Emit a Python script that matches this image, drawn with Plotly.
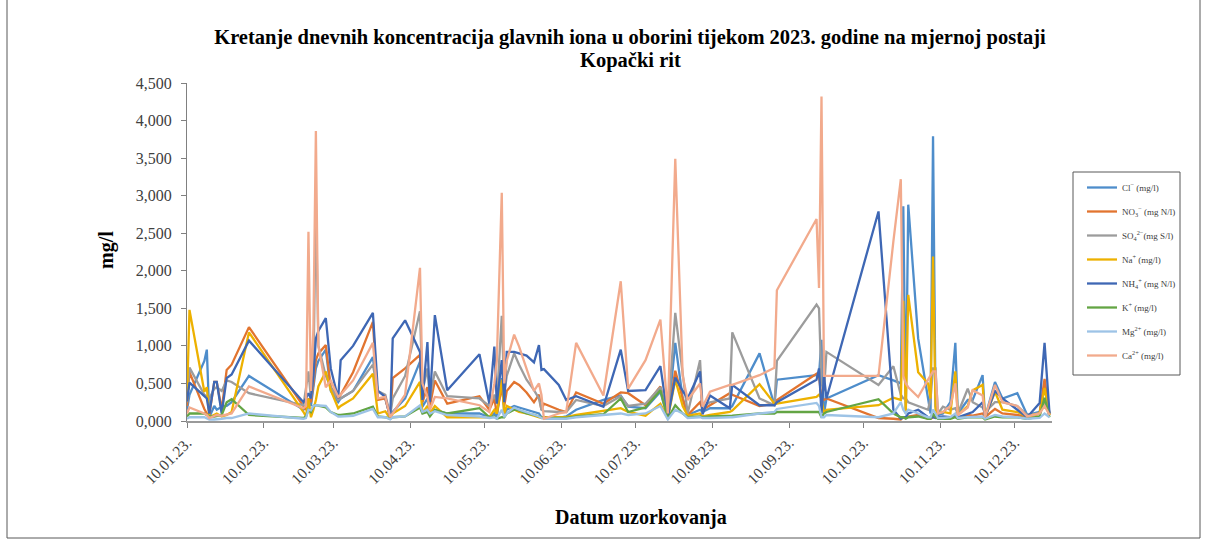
import plotly.graph_objects as go

# Sampling dates (2023)
dates = [
    "2023-01-10", "2023-01-11", "2023-01-17", "2023-01-18", "2023-01-19", "2023-01-21", "2023-01-22", "2023-01-24", "2023-01-26", "2023-01-28",
    "2023-02-04", "2023-02-26", "2023-02-27", "2023-02-28", "2023-03-01", "2023-03-02", "2023-03-03", "2023-03-04", "2023-03-07", "2023-03-09",
    "2023-03-12", "2023-03-13", "2023-03-18", "2023-03-26", "2023-03-28", "2023-03-31", "2023-04-02", "2023-04-03", "2023-04-08", "2023-04-14",
    "2023-04-15", "2023-04-17", "2023-04-18", "2023-04-20", "2023-04-25", "2023-05-08", "2023-05-12", "2023-05-14", "2023-05-15", "2023-05-17",
    "2023-05-18", "2023-05-19", "2023-05-22", "2023-05-24", "2023-05-27", "2023-05-30", "2023-06-01", "2023-06-02", "2023-06-03", "2023-06-09",
    "2023-06-12", "2023-06-16", "2023-06-27", "2023-07-04", "2023-07-07", "2023-07-14", "2023-07-20", "2023-07-23", "2023-07-26", "2023-07-29",
    "2023-07-31", "2023-08-05", "2023-08-06", "2023-08-09", "2023-08-17", "2023-08-18", "2023-08-29", "2023-09-04", "2023-09-05", "2023-09-21",
    "2023-09-22", "2023-09-23", "2023-09-24", "2023-09-25", "2023-10-16", "2023-10-22", "2023-10-25", "2023-10-26", "2023-10-27", "2023-10-28",
    "2023-11-01", "2023-11-05", "2023-11-06", "2023-11-07", "2023-11-08", "2023-11-09", "2023-11-11", "2023-11-14", "2023-11-16", "2023-11-17",
    "2023-11-21", "2023-11-23", "2023-11-27", "2023-11-28", "2023-12-02", "2023-12-05", "2023-12-11", "2023-12-15", "2023-12-20", "2023-12-22",
    "2023-12-24",
]

# Daily concentrations
cl = [
    0.15, 0.35, 0.80, 0.95, 0.05, 0.20, 0.15, 0.19, 0.20, 0.25,
    0.60, 0.15, 0.20, 0.25, 0.20, 0.45, 0.70, 0.80, 0.95, 0.40,
    0.25, 0.30, 0.40, 0.85, 0.30, 0.30, 0.05, 0.12, 0.30, 0.79,
    0.19, 0.30, 0.10, 0.15, 0.10, 0.10, 0.05, 0.10, 0.05, 0.57,
    0.10, 0.15, 0.20, 0.18, 0.15, 0.12, 0.10, 0.05, 0.05, 0.04,
    0.06, 0.15, 0.28, 0.34, 0.19, 0.17, 0.39, 0.03, 1.04, 0.30,
    0.08, 0.15, 0.12, 0.17, 0.17, 0.20, 0.90, 0.21, 0.55, 0.61,
    0.61, 1.08, 0.10, 0.30, 0.61, 0.54, 0.50, 2.86, 0.10, 2.88,
    1.10, 0.30, 0.10, 3.79, 0.20, 0.08, 0.10, 0.25, 1.04, 0.10,
    0.28, 0.28, 0.61, 0.05, 0.52, 0.30, 0.37, 0.08, 0.12, 0.45,
    0.10,
]
no3 = [
    0.20, 0.65, 0.16, 0.10, 0.08, 0.52, 0.52, 0.15, 0.68, 0.75,
    1.25, 0.19, 0.15, 0.30, 0.25, 0.50, 0.81, 0.90, 1.01, 0.45,
    0.30, 0.35, 0.65, 1.32, 0.28, 0.30, 0.05, 0.57, 0.70, 0.88,
    0.25, 0.45, 0.20, 0.54, 0.23, 0.33, 0.15, 0.30, 0.10, 0.45,
    0.20, 0.40, 0.52, 0.48, 0.38, 0.25, 0.35, 0.15, 0.23, 0.15,
    0.12, 0.38, 0.23, 0.38, 0.37, 0.21, 0.46, 0.05, 0.67, 0.30,
    0.08, 0.25, 0.15, 0.21, 0.37, 0.35, 0.20, 0.23, 0.28, 0.63,
    0.60, 0.30, 0.28, 0.30, 0.04, 0.03, 0.02, 0.05, 0.04, 0.06,
    0.08, 0.03, 0.03, 0.05, 0.05, 0.04, 0.05, 0.04, 0.08, 0.04,
    0.08, 0.07, 0.10, 0.05, 0.16, 0.10, 0.08, 0.05, 0.10, 0.56,
    0.08,
]
so4 = [
    0.25, 0.71, 0.35, 0.32, 0.30, 0.43, 0.45, 0.40, 0.54, 0.52,
    0.37, 0.21, 0.45, 0.66, 0.30, 0.60, 2.92, 1.00, 0.60, 0.45,
    0.28, 0.30, 0.40, 0.75, 0.40, 0.35, 0.08, 0.30, 0.60, 1.46,
    0.40, 0.70, 0.30, 0.66, 0.33, 0.30, 0.20, 0.35, 0.25, 1.40,
    0.35, 0.60, 0.90, 0.75, 0.55, 0.41, 0.30, 0.15, 0.13, 0.12,
    0.12, 0.28, 0.20, 0.33, 0.20, 0.23, 0.45, 0.05, 1.44, 0.63,
    0.10, 0.81, 0.19, 0.25, 0.30, 1.18, 0.30, 0.21, 0.80, 1.55,
    1.50, 0.50, 0.40, 0.92, 0.48, 0.73, 0.35, 0.30, 0.30, 0.25,
    0.20, 0.15, 0.30, 0.70, 0.70, 0.10, 0.19, 0.15, 0.17, 0.10,
    0.43, 0.25, 0.18, 0.12, 0.25, 0.25, 0.20, 0.08, 0.10, 0.25,
    0.10,
]
na = [
    0.28, 1.48, 0.39, 0.45, 0.05, 0.08, 0.10, 0.06, 0.08, 0.12,
    1.18, 0.12, 0.06, 0.30, 0.05, 0.15, 0.28, 0.46, 0.66, 0.41,
    0.17, 0.20, 0.30, 0.63, 0.10, 0.13, 0.03, 0.10, 0.20, 0.52,
    0.10, 0.20, 0.10, 0.20, 0.05, 0.05, 0.05, 0.15, 0.10, 0.55,
    0.10, 0.20, 0.15, 0.12, 0.10, 0.07, 0.05, 0.04, 0.05, 0.05,
    0.05, 0.08, 0.14, 0.17, 0.12, 0.07, 0.23, 0.03, 0.55, 0.20,
    0.07, 0.10, 0.06, 0.08, 0.12, 0.14, 0.49, 0.23, 0.23, 0.32,
    0.35, 0.30, 0.10, 0.15, 0.21, 0.31, 0.28, 1.60, 0.10, 1.68,
    0.65, 0.50, 0.30, 2.19, 0.15, 0.10, 0.12, 0.10, 0.66, 0.08,
    0.20, 0.41, 0.48, 0.05, 0.39, 0.15, 0.12, 0.06, 0.10, 0.44,
    0.08,
]
nh4 = [
    0.26, 0.51, 0.33, 0.30, 0.10, 0.52, 0.52, 0.10, 0.57, 0.62,
    1.07, 0.25, 0.30, 0.37, 0.30, 0.60, 1.10, 1.20, 1.37, 0.70,
    0.30, 0.81, 1.00, 1.44, 0.40, 0.32, 0.05, 1.10, 1.34, 0.92,
    0.28, 1.05, 0.25, 1.41, 0.41, 0.89, 0.23, 0.99, 0.23, 0.81,
    0.25, 0.92, 0.92, 0.90, 0.87, 0.78, 1.01, 0.68, 0.69, 0.48,
    0.28, 0.33, 0.19, 0.95, 0.40, 0.41, 0.73, 0.05, 0.58, 0.40,
    0.30, 0.66, 0.09, 0.34, 0.17, 0.48, 0.21, 0.21, 0.25, 0.55,
    0.70, 0.10, 0.60, 0.30, 2.79, 0.15, 0.03, 0.05, 0.05, 0.10,
    0.15, 0.05, 0.04, 0.05, 0.04, 0.05, 0.06, 0.05, 0.08, 0.05,
    0.10, 0.12, 0.25, 0.05, 0.40, 0.30, 0.15, 0.05, 0.24, 1.04,
    0.10,
]
k = [
    0.06, 0.10, 0.10, 0.08, 0.06, 0.06, 0.07, 0.08, 0.25, 0.29,
    0.08, 0.04, 0.06, 0.15, 0.12, 0.20, 0.21, 0.20, 0.18, 0.12,
    0.08, 0.08, 0.10, 0.19, 0.06, 0.05, 0.03, 0.05, 0.06, 0.18,
    0.10, 0.12, 0.06, 0.15, 0.10, 0.17, 0.05, 0.06, 0.03, 0.05,
    0.05, 0.10, 0.15, 0.14, 0.10, 0.08, 0.06, 0.04, 0.04, 0.04,
    0.04, 0.06, 0.09, 0.30, 0.12, 0.18, 0.41, 0.03, 0.21, 0.10,
    0.05, 0.06, 0.05, 0.06, 0.07, 0.07, 0.10, 0.10, 0.12, 0.12,
    0.12, 0.05, 0.10, 0.12, 0.29, 0.10, 0.05, 0.05, 0.03, 0.05,
    0.06, 0.03, 0.03, 0.10, 0.05, 0.03, 0.03, 0.03, 0.05, 0.03,
    0.05, 0.05, 0.05, 0.02, 0.06, 0.05, 0.05, 0.03, 0.06, 0.31,
    0.05,
]
mg = [
    0.03, 0.05, 0.05, 0.04, 0.02, 0.02, 0.02, 0.03, 0.04, 0.04,
    0.10, 0.03, 0.04, 0.15, 0.14, 0.20, 0.21, 0.21, 0.20, 0.12,
    0.06, 0.06, 0.07, 0.16, 0.05, 0.05, 0.02, 0.05, 0.06, 0.21,
    0.12, 0.15, 0.10, 0.13, 0.08, 0.06, 0.04, 0.05, 0.03, 0.15,
    0.05, 0.10, 0.18, 0.15, 0.12, 0.08, 0.06, 0.04, 0.03, 0.03,
    0.03, 0.05, 0.08, 0.10, 0.08, 0.10, 0.20, 0.02, 0.15, 0.10,
    0.04, 0.05, 0.04, 0.04, 0.05, 0.05, 0.10, 0.12, 0.16, 0.24,
    0.20, 0.05, 0.05, 0.08, 0.05, 0.10, 0.25, 0.15, 0.10, 0.15,
    0.10, 0.05, 0.05, 0.15, 0.10, 0.04, 0.04, 0.05, 0.10, 0.04,
    0.05, 0.05, 0.06, 0.03, 0.08, 0.06, 0.05, 0.03, 0.04, 0.10,
    0.05,
]
ca = [
    0.10, 0.18, 0.10, 0.08, 0.04, 0.06, 0.08, 0.07, 0.08, 0.10,
    0.46, 0.17, 0.20, 2.52, 0.40, 1.23, 3.86, 1.00, 0.45, 0.54,
    0.32, 0.35, 0.54, 1.04, 0.30, 0.32, 0.05, 0.10, 0.35, 2.04,
    0.50, 0.32, 0.15, 0.32, 0.30, 0.21, 0.12, 0.50, 0.80, 3.04,
    0.50, 0.80, 1.15, 0.99, 0.70, 0.40, 0.50, 0.35, 0.03, 0.10,
    0.12, 1.04, 0.34, 1.86, 0.43, 0.81, 1.35, 0.10, 3.49, 0.60,
    0.28, 0.50, 0.19, 0.39, 0.48, 0.48, 0.61, 0.71, 1.74, 2.69,
    1.77, 4.32, 0.60, 0.60, 0.60, 2.39, 3.22, 0.60, 0.50, 0.45,
    0.32, 0.55, 0.60, 0.66, 0.66, 0.10, 0.12, 0.20, 0.50, 0.08,
    0.18, 0.41, 0.34, 0.05, 0.48, 0.25, 0.20, 0.06, 0.10, 0.20,
    0.08,
]

series_names = [
    "Cl<sup>−</sup> (mg/l)",
    "NO<sub>3</sub><sup>−</sup> (mg N/l)",
    "SO<sub>4</sub><sup>2−</sup>(mg S/l)",
    "Na<sup>+</sup> (mg/l)",
    "NH<sub>4</sub><sup>+</sup> (mg N/l)",
    "K<sup>+</sup> (mg/l)",
    "Mg<sup>2+</sup> (mg/l)",
    "Ca<sup>2+</sup> (mg/l)",
]
series_values = [cl, no3, so4, na, nh4, k, mg, ca]
series_colors = ["#4E8DCB", "#E2742F", "#9C9C9C", "#EDB100",
                 "#3E67B4", "#63A544", "#9DC3E6", "#F2AA8C"]

# Axis ticks
y_ticks = [0, 0.5, 1.0, 1.5, 2.0, 2.5, 3.0, 3.5, 4.0, 4.5]
y_tick_text = ["0,000", "0,500", "1,000", "1,500", "2,000", "2,500",
               "3,000", "3,500", "4,000", "4,500"]
x_ticks = ["2023-%02d-10" % m for m in range(1, 13)]
x_tick_text = ["10.%02d.23." % m for m in range(1, 13)]

title_line1 = "Kretanje dnevnih koncentracija glavnih iona u oborini tijekom 2023. godine na mjernoj postaji"
title_line2 = "Kopački rit"

SERIF = "Liberation Serif, Times New Roman, serif"

fig = go.Figure()
for i, (name, vals, col) in enumerate(zip(series_names, series_values, series_colors)):
    fig.add_trace(go.Scatter(
        x=dates, y=vals, name=name, mode="lines",
        line=dict(color=col, width=2.3),
        legendgroup="g%d" % i,
        hoverinfo="skip",
    ))

W, H = 1207, 550
L, R, T, B = 187, 1052, 83, 421
pw, ph = R - L, B - T

def px(x):
    return (x - L) / pw

def py(y):
    return (B - y) / ph

fig.update_layout(
    width=W, height=H,
    margin=dict(l=L, r=W - R, t=T, b=H - B, pad=0),
    paper_bgcolor="white", plot_bgcolor="white",
    font=dict(family=SERIF, color="#404040", size=15),
    showlegend=True,
    title=dict(
        text="<b>%s</b>" % title_line1,
        x=630 / W, xref="container", xanchor="center",
        y=1 - 37 / H, yref="container", yanchor="middle",
        font=dict(family=SERIF, size=20.5, color="#000000"),
    ),
    xaxis=dict(
        type="date",
        range=["2023-01-10", "2023-12-25"],
        tickvals=x_ticks, ticktext=x_tick_text,
        tickangle=-45,
        ticks="outside", ticklen=5, tickcolor="#808080",
        showline=True, linecolor="#9a9a9a", linewidth=1.5,
        showgrid=False, zeroline=False,
        tickfont=dict(family=SERIF, size=15.5, color="#404040"),
    ),
    yaxis=dict(
        range=[0, 4.5],
        tickvals=y_ticks, ticktext=y_tick_text,
        ticks="outside", ticklen=5, tickcolor="#808080",
        ticklabelstandoff=6,
        showline=True, linecolor="#808080", linewidth=1,
        showgrid=False, zeroline=False,
        tickfont=dict(family=SERIF, size=16, color="#404040"),
    ),
    legend=dict(
        x=px(1082), y=py(173), xanchor="left", yanchor="top",
        bgcolor="rgba(0,0,0,0)", borderwidth=0,
        font=dict(family=SERIF, size=9, color="#404040"),
        tracegroupgap=5, itemwidth=30,
    ),
    annotations=[
        dict(text="<b>%s</b>" % title_line2, x=px(630), y=py(60),
             xref="paper", yref="paper", xanchor="center", yanchor="middle",
             showarrow=False, font=dict(family=SERIF, size=20.5, color="#000000")),
        dict(text="<b>mg/l</b>", x=px(106), y=py(250), xref="paper", yref="paper",
             xanchor="center", yanchor="middle",
             textangle=-90, showarrow=False,
             font=dict(family=SERIF, size=20, color="#000000")),
        dict(text="<b>Datum uzorkovanja</b>", x=px(641), y=py(517), xref="paper", yref="paper",
             xanchor="center", yanchor="middle",
             showarrow=False, font=dict(family=SERIF, size=20, color="#000000")),
    ],
    shapes=[
        # chart frame
        dict(type="rect", xref="paper", yref="paper",
             x0=px(7), x1=px(1200), y0=py(538), y1=py(-2),
             line=dict(color="#595959", width=1), fillcolor="rgba(0,0,0,0)", layer="below"),
        # legend frame
        dict(type="rect", xref="paper", yref="paper",
             x0=px(1073), x1=px(1180), y0=py(375), y1=py(172),
             line=dict(color="#595959", width=1), fillcolor="white", layer="below"),
    ],
)

fig.write_html("out.html")
